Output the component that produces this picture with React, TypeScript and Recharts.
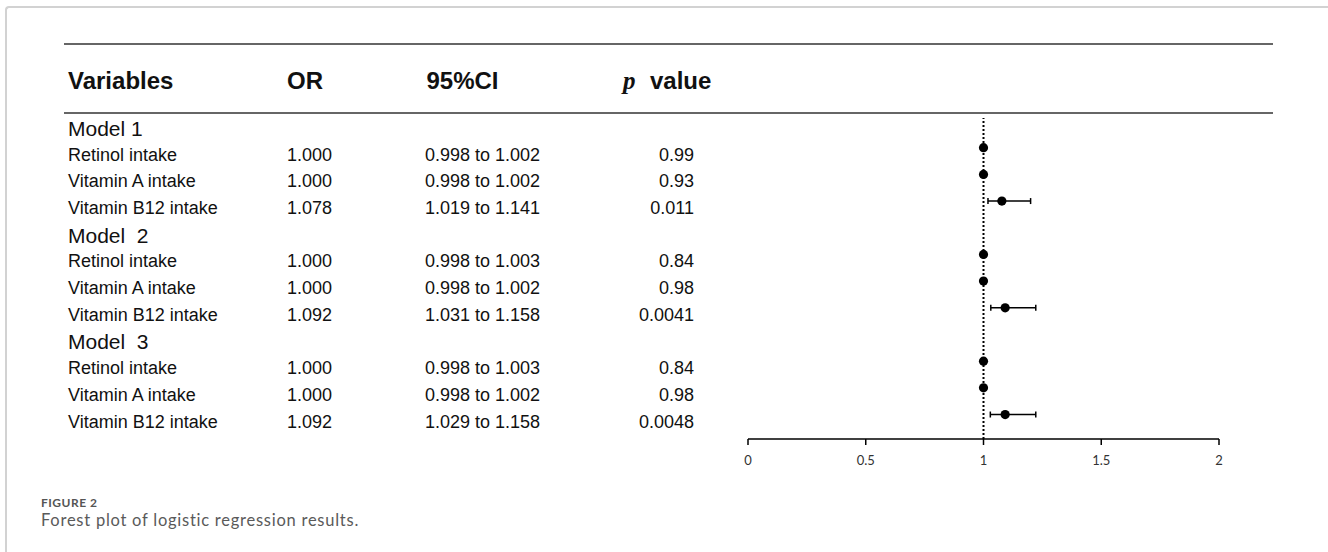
import React from 'react';
import { ScatterChart, Scatter, XAxis, YAxis, ErrorBar, ReferenceLine } from 'recharts';

// ---------- data ----------
const modelLabels = ['Model 1', 'Model  2', 'Model  3'];
const variableNames = ['Retinol intake', 'Vitamin A intake', 'Vitamin B12 intake'];
const orValues = [1.0, 1.0, 1.078, 1.0, 1.0, 1.092, 1.0, 1.0, 1.092];
const ciLow = [0.998, 0.998, 1.019, 0.998, 0.998, 1.031, 0.998, 0.998, 1.029];
const ciHigh = [1.002, 1.002, 1.141, 1.003, 1.002, 1.158, 1.003, 1.002, 1.158];
// upper whisker ends as drawn in the figure
const plottedHigh = [1.002, 1.002, 1.2, 1.003, 1.002, 1.222, 1.003, 1.002, 1.222];
const pValues = ['0.99', '0.93', '0.011', '0.84', '0.98', '0.0041', '0.84', '0.98', '0.0048'];
const xTicks = [0, 0.5, 1, 1.5, 2];
const headers = ['Variables', 'OR', '95%CI', 'value'];
const captionLabel = 'FIGURE 2';
const captionText = 'Forest plot of logistic regression results.';

// ---------- derived tables ----------
type DataRow = { row: number; x: number; name: string; orText: string; ci: string; p: string; err: number[] };
type HeadRow = { row: number; x: number; label: string };

const dataRows: DataRow[] = [];
const headRows: HeadRow[] = [];
modelLabels.forEach((m, mi) => {
  headRows.push({ row: mi * 4, x: 1, label: m });
  variableNames.forEach((v, vi) => {
    const k = mi * 3 + vi;
    dataRows.push({
      row: mi * 4 + vi + 1,
      x: orValues[k],
      name: v,
      orText: orValues[k].toFixed(3),
      ci: `${ciLow[k].toFixed(3)} to ${ciHigh[k].toFixed(3)}`,
      p: pValues[k],
      err: [orValues[k] - ciLow[k], plottedHigh[k] - orValues[k]],
    });
  });
});

const SANS = '"Liberation Sans", Arial, Helvetica, sans-serif';
const TXT = '#111';

const DataShape = (props: any) => {
  const { cx, cy, payload } = props;
  if (cx == null || cy == null) return null;
  const by = cy + 13;
  return (
    <g>
      <circle cx={cx} cy={cy} r={4.6} fill="#000" />
      <text x={68} y={by} fontFamily={SANS} fontSize={18} fill={TXT}>{payload.name}</text>
      <text x={287} y={by} fontFamily={SANS} fontSize={18} fill={TXT}>{payload.orText}</text>
      <text x={425} y={by} fontFamily={SANS} fontSize={18} fill={TXT}>{payload.ci}</text>
      <text x={694} y={by} fontFamily={SANS} fontSize={18} fill={TXT} textAnchor="end">{payload.p}</text>
    </g>
  );
};

const HeadShape = (props: any) => {
  const { cy, payload } = props;
  if (cy == null) return null;
  return (
    <text x={68} y={cy + 15} fontFamily={SANS} fontSize={21} fill={TXT} style={{ whiteSpace: 'pre' }} xmlSpace="preserve">
      {payload.label}
    </text>
  );
};

export default function App() {
  return (
    <div style={{ position: 'absolute', left: 0, top: 0, width: 1328, height: 552, background: '#fff', overflow: 'hidden' }}>
      <div
        style={{
          position: 'absolute',
          left: 5,
          top: 6,
          width: 1400,
          height: 600,
          borderLeft: '2px solid #d2d2d2',
          borderTop: '2px solid #d2d2d2',
          borderTopLeftRadius: 4,
        }}
      />
      <div style={{ position: 'absolute', left: 0, top: 0 }}>
        <ScatterChart width={1328} height={552} margin={{ top: 118, right: 109, bottom: 83, left: 748 }}>
          <XAxis
            type="number"
            dataKey="x"
            domain={[0, 2]}
            ticks={xTicks}
            tickFormatter={(v: number) => String(v)}
            axisLine={{ stroke: '#000', strokeWidth: 1.5 }}
            tickLine={{ stroke: '#000', strokeWidth: 1.5 }}
            tickSize={6}
            tickMargin={11}
            tick={{ fontFamily: 'Lato, "Open Sans", sans-serif', fontSize: 13, fill: '#333' }}
            height={30}
          />
          <YAxis type="number" dataKey="row" domain={[-0.113, 11.917]} reversed hide />
          <ReferenceLine x={1} stroke="#000" strokeWidth={2} strokeDasharray="2 2" ifOverflow="extendDomain" />
          <Scatter data={headRows} dataKey="row" shape={(p: any) => <HeadShape {...p} />} isAnimationActive={false} />
          <Scatter data={dataRows} dataKey="row" shape={(p: any) => <DataShape {...p} />} isAnimationActive={false}>
            <ErrorBar dataKey="err" direction="x" width={3} stroke="#000" strokeWidth={1.5} isAnimationActive={false} />
          </Scatter>
        </ScatterChart>
      </div>
      <svg width={1328} height={552} style={{ position: 'absolute', left: 0, top: 0, pointerEvents: 'none' }}>
        <line x1={64} x2={1273} y1={44} y2={44} stroke="#333" strokeWidth={1.4} />
        <line x1={64} x2={1273} y1={113} y2={113} stroke="#333" strokeWidth={1.4} />
        <text x={68} y={88.7} fontFamily={SANS} fontSize={24} fontWeight="bold" fill={TXT}>{headers[0]}</text>
        <text x={287} y={88.7} fontFamily={SANS} fontSize={24} fontWeight="bold" fill={TXT}>{headers[1]}</text>
        <text x={426.5} y={88.7} fontFamily={SANS} fontSize={24} fontWeight="bold" fill={TXT}>{headers[2]}</text>
        <text x={623} y={88.7} fontFamily='"Liberation Serif", "Times New Roman", serif' fontSize={25} fontStyle="italic" fontWeight="bold" fill={TXT}>p</text>
        <text x={650} y={88.7} fontFamily={SANS} fontSize={24} fontWeight="bold" fill={TXT}>{headers[3]}</text>
        <text x={41} y={506.5} fontFamily='Lato, "Open Sans", sans-serif' fontWeight={700} fontSize={12} letterSpacing={0.5} fill="#555">
          {captionLabel}
        </text>
        <text x={41} y={525.5} fontFamily='Lato, "Open Sans", sans-serif' fontSize={16.5} letterSpacing={0.75} fill="#5a5a5a">
          {captionText}
        </text>
      </svg>
    </div>
  );
}
